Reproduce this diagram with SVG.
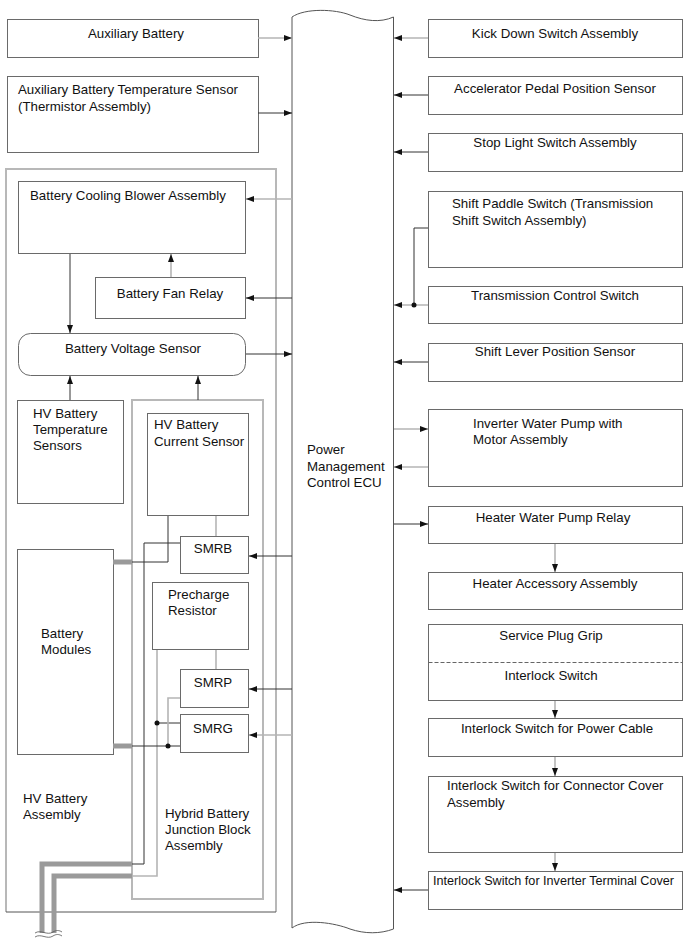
<svg xmlns="http://www.w3.org/2000/svg" width="690" height="951" viewBox="0 0 690 951">
<style>
.bx{fill:#fff;stroke:#6a6a6a;stroke-width:1}
.ob{fill:none;stroke:#b8b8b8;stroke-width:2}
.t{font-family:"Liberation Sans",Arial,Helvetica,sans-serif;font-size:13.3px;fill:#111}
.c{text-anchor:middle}
.dk{fill:none;stroke:#333;stroke-width:1}
.gy{fill:none;stroke:#b5b5b5;stroke-width:1.6}
.cb{fill:none;stroke:#9a9a9a;stroke-width:5}
.dot{fill:#111}
</style>
<defs>
<marker id="ah" viewBox="0 0 8 6" refX="8" refY="3" markerWidth="8" markerHeight="6" markerUnits="userSpaceOnUse" orient="auto">
<path d="M0,0 L8,3 L0,6 z" fill="#111"/>
</marker>
</defs>
<rect width="690" height="951" fill="#fff"/>

<g id="hv-battery-assembly">
<path class="ob" d="M6,912 V169 H276 V912"/>
<path d="M6,912 H276" fill="none" stroke="#555" stroke-width="1"/>
<text class="t" x="23" y="803">HV Battery</text>
<text class="t" x="23" y="819">Assembly</text>
</g>
<g id="junction-block">
<rect class="ob" x="132" y="400" width="131" height="499"/>
<text class="t" x="165" y="818">Hybrid Battery</text>
<text class="t" x="165" y="834">Junction Block</text>
<text class="t" x="165" y="850">Assembly</text>
</g>

<g id="ecu">
<path d="M292,17 C305,8 335,9 350,15 C365,21 380,23 393.5,17 V929 C380,934 365,934 350,929 C335,923 305,918 292,928 Z" fill="#fff" stroke="#555" stroke-width="1"/>
<text class="t" x="307" y="454">Power</text>
<text class="t" x="307" y="470.5">Management</text>
<text class="t" x="307" y="487">Control ECU</text>
</g>

<g id="aux-battery">
<rect class="bx" x="7.5" y="19.5" width="251" height="38"/>
<text class="t c" x="136" y="38">Auxiliary Battery</text>
</g>
<g id="aux-temp-sensor">
<rect class="bx" x="7.5" y="76.5" width="251" height="76"/>
<text class="t" x="18" y="94">Auxiliary Battery Temperature Sensor</text>
<text class="t" x="18" y="110.5">(Thermistor Assembly)</text>
</g>
<g id="blower">
<rect class="bx" x="18.5" y="181.5" width="227" height="72"/>
<text class="t" x="30" y="200">Battery Cooling Blower Assembly</text>
</g>
<g id="fan-relay">
<rect class="bx" x="95.5" y="277.5" width="150" height="41"/>
<text class="t c" x="170" y="298">Battery Fan Relay</text>
</g>
<g id="voltage-sensor">
<rect class="bx" x="18.5" y="333.5" width="227" height="42" rx="12" ry="12"/>
<text class="t c" x="133" y="353">Battery Voltage Sensor</text>
</g>
<g id="temp-sensors">
<rect class="bx" x="17.5" y="400.5" width="106" height="103"/>
<text class="t" x="33" y="418">HV Battery</text>
<text class="t" x="33" y="434">Temperature</text>
<text class="t" x="33" y="450">Sensors</text>
</g>
<g id="current-sensor">
<rect class="bx" x="147.5" y="413.5" width="101" height="102"/>
<text class="t" x="154" y="429">HV Battery</text>
<text class="t" x="154" y="446">Current Sensor</text>
</g>
<g id="smrb">
<rect class="bx" x="180.5" y="536.5" width="68" height="37"/>
<text class="t c" x="213" y="553">SMRB</text>
</g>
<g id="precharge">
<rect class="bx" x="152.5" y="582.5" width="96" height="67"/>
<text class="t" x="168" y="599">Precharge</text>
<text class="t" x="168" y="614.5">Resistor</text>
</g>
<g id="smrp">
<rect class="bx" x="180.5" y="669.5" width="68" height="38"/>
<text class="t c" x="213" y="687">SMRP</text>
</g>
<g id="smrg">
<rect class="bx" x="180.5" y="714.5" width="68" height="38"/>
<text class="t c" x="213" y="733">SMRG</text>
</g>
<g id="battery-modules">
<rect class="bx" x="17.5" y="549.5" width="96" height="205"/>
<text class="t" x="41" y="638">Battery</text>
<text class="t" x="41" y="654">Modules</text>
</g>

<g id="kick-down">
<rect class="bx" x="428.5" y="19.5" width="254" height="38"/>
<text class="t c" x="555" y="38">Kick Down Switch Assembly</text>
</g>
<g id="accel-pedal">
<rect class="bx" x="428.5" y="76.5" width="254" height="38"/>
<text class="t c" x="555" y="93">Accelerator Pedal Position Sensor</text>
</g>
<g id="stop-light">
<rect class="bx" x="428.5" y="133.5" width="254" height="38"/>
<text class="t c" x="555" y="147">Stop Light Switch Assembly</text>
</g>
<g id="shift-paddle">
<rect class="bx" x="428.5" y="191.5" width="254" height="76"/>
<text class="t" x="452" y="208">Shift Paddle Switch (Transmission</text>
<text class="t" x="452" y="225">Shift Switch Assembly)</text>
</g>
<g id="trans-control">
<rect class="bx" x="428.5" y="286.5" width="254" height="37"/>
<text class="t c" x="555" y="300">Transmission Control Switch</text>
</g>
<g id="shift-lever">
<rect class="bx" x="428.5" y="343.5" width="254" height="38"/>
<text class="t c" x="555" y="356">Shift Lever Position Sensor</text>
</g>
<g id="inverter-pump">
<rect class="bx" x="428.5" y="409.5" width="254" height="77"/>
<text class="t" x="473" y="428">Inverter Water Pump with</text>
<text class="t" x="473" y="444">Motor Assembly</text>
</g>
<g id="heater-relay">
<rect class="bx" x="428.5" y="506.5" width="254" height="37"/>
<text class="t c" x="553" y="522">Heater Water Pump Relay</text>
</g>
<g id="heater-accessory">
<rect class="bx" x="428.5" y="572.5" width="254" height="37"/>
<text class="t c" x="555" y="588">Heater Accessory Assembly</text>
</g>
<g id="service-plug">
<rect class="bx" x="428.5" y="624.5" width="254" height="76"/>
<path d="M428.5,662.5 H682.5" fill="none" stroke="#666" stroke-width="1" stroke-dasharray="4,2"/>
<text class="t c" x="551" y="640">Service Plug Grip</text>
<text class="t c" x="551" y="680">Interlock Switch</text>
</g>
<g id="interlock-power-cable">
<rect class="bx" x="428.5" y="718.5" width="254" height="38"/>
<text class="t c" x="557" y="733">Interlock Switch for Power Cable</text>
</g>
<g id="interlock-connector-cover">
<rect class="bx" x="428.5" y="776.5" width="254" height="76"/>
<text class="t" x="447" y="790">Interlock Switch for Connector Cover</text>
<text class="t" x="447" y="807">Assembly</text>
</g>
<g id="interlock-inverter-cover">
<rect class="bx" x="428.5" y="871.5" width="254" height="38"/>
<text class="t" x="433" y="885" textLength="241" lengthAdjust="spacingAndGlyphs">Interlock Switch for Inverter Terminal Cover</text>
</g>

<g id="connectors">
<path class="gy" d="M258,38 H292" marker-end="url(#ah)"/>
<path class="dk" d="M258,113 H292" marker-end="url(#ah)"/>
<path class="gy" d="M292,199 H246" marker-end="url(#ah)"/>
<path class="dk" d="M292,298 H246" marker-end="url(#ah)"/>
<path class="gy" d="M171,277 V254" marker-end="url(#ah)"/>
<path class="dk" d="M70,254 V333" marker-end="url(#ah)"/>
<path class="dk" d="M246,354 H292" marker-end="url(#ah)"/>
<path class="dk" d="M70,400 V376" marker-end="url(#ah)"/>
<path class="dk" d="M198,400 V376" marker-end="url(#ah)"/>
<path class="gy" d="M216,516 V536"/>
<path class="dk" d="M292,556 H249" marker-end="url(#ah)"/>
<path class="gy" d="M216,650 V669"/>
<path class="dk" d="M292,689 H249" marker-end="url(#ah)"/>
<path class="gy" d="M292,735 H249" marker-end="url(#ah)"/>

<path class="cb" d="M113,562 H132"/>
<path class="cb" d="M113,746 H132"/>
<path class="dk" d="M132,562 H168 V516"/>
<path class="dk" d="M180,543 H144 V864 H132"/>
<path class="gy" d="M132,876 H157 V650"/>
<path class="dk" d="M157,723 H180"/>
<path class="gy" d="M180,698 H168 V746"/>
<path class="dk" d="M132,746 H180"/>
<circle class="dot" cx="157" cy="723" r="2.5"/>
<circle class="dot" cx="168" cy="746" r="2.5"/>
<path class="cb" d="M132,864 H42 V933"/>
<path class="cb" d="M132,876 H54 V933"/>
<path d="M35,933 C41,929 47,936 53,932 C56,930 59,930 62,932 M35,937 C41,933 47,940 53,936 C56,934 59,934 62,936" fill="none" stroke="#555" stroke-width="0.8"/>

<path class="gy" d="M428,38 H394" marker-end="url(#ah)"/>
<path class="dk" d="M428,95 H394" marker-end="url(#ah)"/>
<path class="dk" d="M428,152 H394" marker-end="url(#ah)"/>
<path class="dk" d="M428,228 H414 V305"/>
<path class="gy" d="M428,305 H394" marker-end="url(#ah)"/>
<circle class="dot" cx="414" cy="305" r="2.5"/>
<path class="dk" d="M428,362 H394" marker-end="url(#ah)"/>
<path class="gy" d="M394,429 H428" marker-end="url(#ah)"/>
<path class="gy" d="M428,467 H394" marker-end="url(#ah)"/>
<path class="dk" d="M394,524 H428" marker-end="url(#ah)"/>
<path class="gy" d="M555,544 V572" marker-end="url(#ah)"/>
<path class="gy" d="M555,701 V718" marker-end="url(#ah)"/>
<path class="gy" d="M555,757 V776" marker-end="url(#ah)"/>
<path class="gy" d="M555,853 V871" marker-end="url(#ah)"/>
<path class="dk" d="M428,890 H394" marker-end="url(#ah)"/>
</g>
</svg>
